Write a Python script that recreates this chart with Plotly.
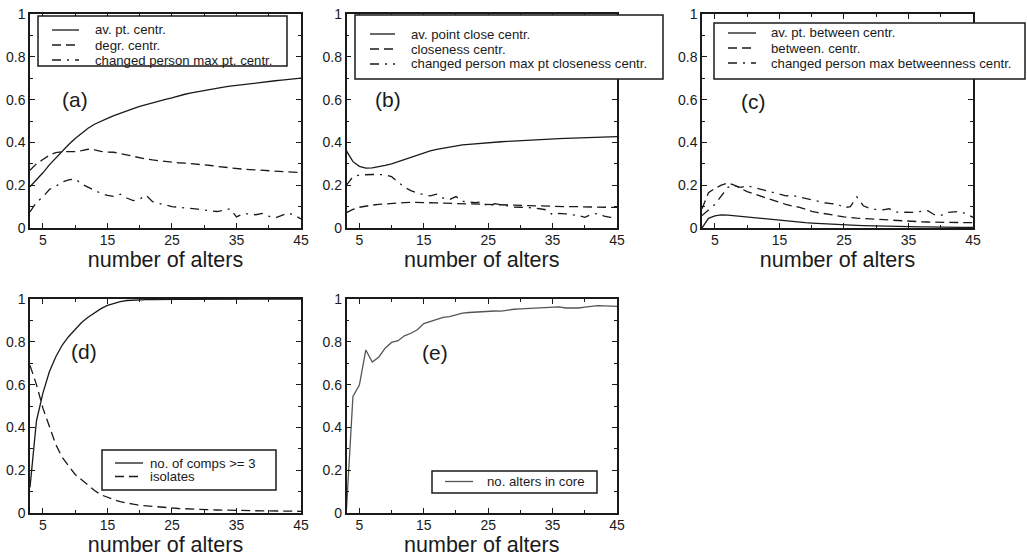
import plotly.graph_objects as go

# number of alters (x for every series)
alters = list(range(3, 46))

# (a) point centrality
av_pt_centr = [0.193, 0.225, 0.258, 0.295, 0.328, 0.36, 0.39, 0.418, 0.443, 0.466, 0.485, 0.50, 0.512,
               0.525, 0.537, 0.548, 0.558, 0.568, 0.577, 0.586, 0.594, 0.601, 0.608, 0.618, 0.625, 0.631,
               0.637, 0.643, 0.648, 0.653, 0.658, 0.663, 0.667, 0.671, 0.675, 0.679, 0.682, 0.685, 0.688,
               0.691, 0.694, 0.697, 0.70]
degr_centr = [0.27, 0.30, 0.32, 0.34, 0.352, 0.357, 0.357, 0.357, 0.362, 0.368, 0.365, 0.358, 0.355, 0.354,
              0.348, 0.341, 0.333, 0.327, 0.322, 0.318, 0.314, 0.311, 0.308, 0.305, 0.303, 0.301, 0.298,
              0.295, 0.292, 0.288, 0.284, 0.281, 0.277, 0.275, 0.273, 0.271, 0.269, 0.267, 0.265, 0.263,
              0.262, 0.261, 0.259]
chg_max_pt_centr = [0.075, 0.12, 0.145, 0.18, 0.195, 0.215, 0.225, 0.23, 0.205, 0.19, 0.175, 0.162, 0.152,
                    0.148, 0.158, 0.14, 0.128, 0.135, 0.153, 0.123, 0.115, 0.108, 0.10, 0.097, 0.095, 0.092,
                    0.088, 0.084, 0.08, 0.077, 0.083, 0.09, 0.052, 0.066, 0.066, 0.062, 0.068, 0.055, 0.047,
                    0.06, 0.07, 0.06, 0.042]

# (b) closeness centrality
av_pt_close = [0.36, 0.31, 0.288, 0.28, 0.281, 0.286, 0.293, 0.30, 0.31, 0.32, 0.332, 0.343, 0.352, 0.36,
               0.367, 0.373, 0.379, 0.384, 0.388, 0.391, 0.394, 0.397, 0.399, 0.401, 0.403, 0.405, 0.407,
               0.409, 0.411, 0.413, 0.414, 0.416, 0.417, 0.418, 0.419, 0.42, 0.421, 0.422, 0.423, 0.424,
               0.425, 0.426, 0.427]
close_centr = [0.072, 0.087, 0.097, 0.103, 0.107, 0.11, 0.113, 0.115, 0.117, 0.119, 0.12, 0.12, 0.119,
               0.118, 0.117, 0.116, 0.115, 0.114, 0.113, 0.112, 0.111, 0.11, 0.109, 0.108, 0.107, 0.106,
               0.105, 0.105, 0.104, 0.103, 0.103, 0.102, 0.101, 0.101, 0.10, 0.10, 0.099, 0.099, 0.098,
               0.098, 0.097, 0.097, 0.096]
chg_max_close = [0.20, 0.24, 0.248, 0.25, 0.25, 0.25, 0.248, 0.24, 0.215, 0.19, 0.175, 0.163, 0.155, 0.15,
                 0.158, 0.14, 0.133, 0.147, 0.125, 0.12, 0.118, 0.123, 0.10, 0.114, 0.108, 0.104, 0.098,
                 0.097, 0.097, 0.094, 0.09, 0.085, 0.062, 0.068, 0.066, 0.063, 0.058, 0.05, 0.063, 0.068,
                 0.056, 0.05, 0.043]

# (c) betweenness centrality
av_pt_between = [0.0, 0.045, 0.057, 0.061, 0.06, 0.057, 0.053, 0.049, 0.046, 0.043, 0.04, 0.037, 0.034,
                 0.032, 0.029, 0.027, 0.025, 0.023, 0.021, 0.019, 0.017, 0.016, 0.015, 0.013, 0.012, 0.011,
                 0.01, 0.009, 0.009, 0.008, 0.007, 0.007, 0.006, 0.006, 0.005, 0.005, 0.004, 0.004, 0.004,
                 0.003, 0.003, 0.003, 0.003]
between_centr = [0.09, 0.165, 0.185, 0.20, 0.21, 0.20, 0.185, 0.17, 0.16, 0.15, 0.138, 0.128, 0.12, 0.11,
                 0.102, 0.098, 0.088, 0.078, 0.072, 0.066, 0.061, 0.057, 0.052, 0.048, 0.046, 0.044, 0.042,
                 0.04, 0.038, 0.036, 0.035, 0.034, 0.032, 0.031, 0.029, 0.028, 0.027, 0.026, 0.026, 0.025,
                 0.025, 0.025, 0.025]
chg_max_between = [0.058, 0.085, 0.11, 0.15, 0.19, 0.198, 0.19, 0.198, 0.19, 0.18, 0.174, 0.163, 0.155,
                   0.15, 0.152, 0.145, 0.136, 0.13, 0.122, 0.118, 0.114, 0.112, 0.095, 0.10, 0.145, 0.104,
                   0.092, 0.086, 0.085, 0.09, 0.074, 0.073, 0.073, 0.073, 0.078, 0.081, 0.062, 0.058, 0.073,
                   0.076, 0.078, 0.065, 0.05]

# (d) components and isolates
comps_ge3 = [0.12, 0.43, 0.56, 0.66, 0.73, 0.785, 0.825, 0.86, 0.89, 0.915, 0.935, 0.955, 0.97, 0.98,
             0.988, 0.993, 0.995, 0.996, 0.997, 0.997, 0.998, 0.998, 0.998, 0.998, 0.998, 0.998, 0.998,
             0.998, 0.999, 0.999, 0.999, 0.999, 0.999, 0.999, 0.999, 0.999, 1.0, 1.0, 1.0, 1.0, 1.0,
             1.0, 1.0]
isolates = [0.69, 0.60, 0.49, 0.40, 0.32, 0.26, 0.22, 0.18, 0.155, 0.13, 0.105, 0.085, 0.072, 0.062,
            0.053, 0.046, 0.041, 0.036, 0.033, 0.03, 0.027, 0.025, 0.023, 0.021, 0.02, 0.018, 0.017,
            0.016, 0.015, 0.014, 0.013, 0.013, 0.012, 0.011, 0.011, 0.01, 0.01, 0.01, 0.009, 0.009,
            0.009, 0.008, 0.008]

# (e) alters in core
alters_in_core = [0.02, 0.545, 0.598, 0.762, 0.705, 0.728, 0.77, 0.797, 0.805, 0.828, 0.84, 0.856, 0.885,
                  0.895, 0.907, 0.914, 0.918, 0.925, 0.934, 0.937, 0.939, 0.942, 0.945, 0.944, 0.943,
                  0.949, 0.952, 0.954, 0.955, 0.956, 0.957, 0.958, 0.962, 0.963, 0.958, 0.957, 0.958,
                  0.962, 0.966, 0.969, 0.968, 0.966, 0.966]

panel_labels = ["(a)", "(b)", "(c)", "(d)", "(e)"]
x_title = "number of alters"

FONT = "Liberation Sans, Arial, Helvetica, sans-serif"
INK = "#1a1a1a"
GREY = "#555555"
SOLID = "solid"
DASH = "9px,5px"
DASHDOT = "9px,6px,2px,6px"

panels = [
    [("av. pt. centr.", av_pt_centr, SOLID, INK),
     ("degr. centr.", degr_centr, DASH, INK),
     ("changed person max pt. centr.", chg_max_pt_centr, DASHDOT, INK)],
    [("av. point close centr.", av_pt_close, SOLID, INK),
     ("closeness centr.", close_centr, DASH, INK),
     ("changed person max pt closeness centr.", chg_max_close, DASHDOT, INK)],
    [("av. pt. between centr.", av_pt_between, SOLID, INK),
     ("between. centr.", between_centr, DASH, INK),
     ("changed person max betweenness centr.", chg_max_between, DASHDOT, INK)],
    [("no. of comps >= 3", comps_ge3, SOLID, INK),
     ("isolates", isolates, DASH, INK)],
    [("no. alters in core", alters_in_core, SOLID, GREY)],
]

W, H = 1027, 558
# plot-area pixel boxes: (left, right, top, bottom)
boxes = [(30, 301, 14, 228), (346.5, 617, 14, 228), (702, 973, 14, 228),
         (30, 301, 299, 513), (346.5, 617, 299, 513)]

# key boxes per panel: (left, top, right, bottom, sample x0, sample x1, text x, first row y, row step)
keys = [(38, 16, 287, 66, 52, 79, 93, 30, 15),
        (355, 15, 663, 79, 370, 395, 409, 34, 15),
        (714, 23, 1025, 79, 728, 756, 769, 33, 15),
        (102, 450, 276, 490, 115, 143, 148, 463, 13.5),
        (432, 471, 597, 493, 445, 473, 485, 481.5, 15)]

label_pos = [(10.0, 0.60), (9.4, 0.60), (11.0, 0.59), (11.4, 0.757), (16.7, 0.752)]


def px(x):
    return x / W


def py(y):
    return 1 - y / H


fig = go.Figure()
shapes = []
annotations = []

for i, series in enumerate(panels):
    suffix = "" if i == 0 else str(i + 1)
    for name, vals, dash, color in series:
        fig.add_trace(go.Scatter(
            x=alters, y=vals, mode="lines", name=name,
            line=dict(color=color, width=1.3, dash=dash),
            xaxis="x" + suffix, yaxis="y" + suffix, showlegend=False,
        ))

    # key box with line samples and names
    kl, kt, kr, kb, s0, s1, tx, ry, step = keys[i]
    shapes.append(dict(type="rect", xref="paper", yref="paper",
                       x0=px(kl), x1=px(kr), y0=py(kb), y1=py(kt),
                       line=dict(color=INK, width=1.5), fillcolor="white", layer="above"))
    for j, (name, _vals, dash, color) in enumerate(series):
        yy = ry + j * step
        shapes.append(dict(type="line", xref="paper", yref="paper",
                           x0=px(s0), x1=px(s1), y0=py(yy), y1=py(yy),
                           line=dict(color=color, width=1.3, dash=dash), layer="above"))
        annotations.append(dict(text=name, xref="paper", yref="paper", x=px(tx), y=py(yy),
                                xanchor="left", yanchor="middle", showarrow=False,
                                font=dict(size=13.2, family=FONT, color=INK)))

    lx, ly = label_pos[i]
    annotations.append(dict(text=panel_labels[i], x=lx, y=ly, xref="x" + suffix, yref="y" + suffix,
                            showarrow=False, font=dict(size=21, family=FONT, color=INK)))

layout = dict(
    width=W, height=H, margin=dict(l=0, r=0, t=0, b=0, autoexpand=False),
    paper_bgcolor="white", plot_bgcolor="white",
    font=dict(family=FONT, color=INK, size=14),
    showlegend=False, shapes=shapes, annotations=annotations,
)

for i, (l, r, t, b) in enumerate(boxes):
    suffix = "" if i == 0 else str(i + 1)
    layout["xaxis" + suffix] = dict(
        domain=[l / W, r / W], anchor="y" + suffix, range=[3, 45], automargin=False,
        tick0=5, dtick=10, ticks="inside", ticklen=5, tickwidth=1, tickcolor=INK,
        minor=dict(ticks="inside", ticklen=3, dtick=5, tick0=5, tickcolor=INK, tickwidth=1),
        showline=True, linecolor=INK, linewidth=1.5, mirror="allticks",
        showgrid=False, zeroline=False, tickfont=dict(size=14), ticklabelstandoff=-2,
        title=dict(text=x_title, font=dict(size=21.5), standoff=0),
    )
    layout["yaxis" + suffix] = dict(
        domain=[1 - b / H, 1 - t / H], anchor="x" + suffix, range=[0, 1], automargin=False,
        tick0=0, dtick=0.2, ticks="inside", ticklen=5, tickwidth=1, tickcolor=INK,
        minor=dict(ticks="inside", ticklen=3, dtick=0.1, tickcolor=INK, tickwidth=1),
        showline=True, linecolor=INK, linewidth=1.5, mirror="allticks",
        showgrid=False, zeroline=False, tickfont=dict(size=14),
    )

fig.update_layout(**layout)
fig.write_html("out.html")
